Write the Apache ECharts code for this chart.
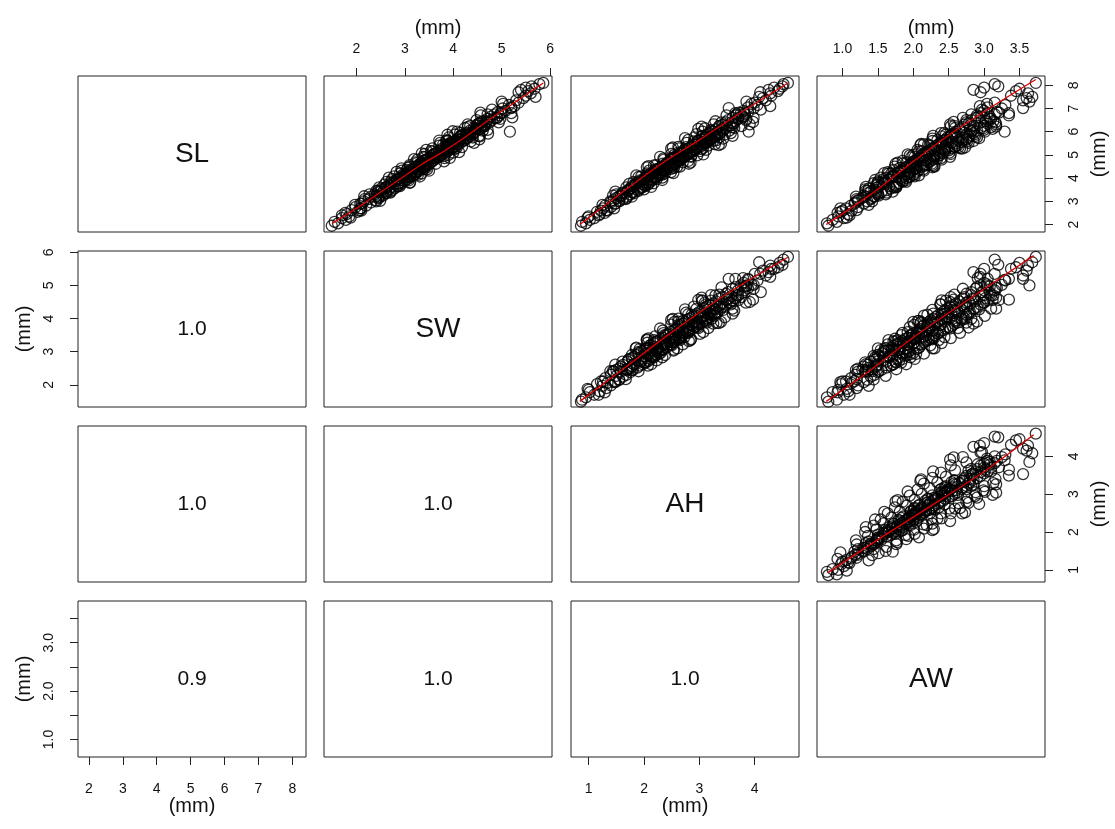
<!DOCTYPE html>
<html>
<head>
<meta charset="utf-8">
<script src="https://cdn.jsdelivr.net/npm/echarts@6/dist/echarts.min.js"></script>
<style>html,body{margin:0;padding:0;background:#fff}#main{width:1115px;height:829px}</style>
</head>
<body>
<div id="main"></div>
<script>
var varNames = ['SL', 'SW', 'AH', 'AW'];

var sl = [1.95,2.05,2.12,2.20,2.28,2.35,2.45,2.55,2.62,2.70,2.75,2.82,2.90,2.95,3.00,3.05,3.10,3.15,3.20,3.25,
  3.30,3.35,3.40,3.42,3.48,3.50,3.55,3.58,3.62,3.65,3.70,3.72,3.78,3.80,3.85,3.88,3.92,3.95,4.00,4.02,
  4.05,4.08,4.10,4.12,4.15,4.18,4.20,4.25,4.28,4.30,4.35,4.38,4.40,4.45,4.48,4.50,4.55,4.58,4.60,4.65,
  4.68,4.70,4.75,4.78,4.80,4.85,4.88,4.90,4.95,4.98,5.00,5.05,5.08,5.10,5.15,5.18,5.20,5.25,5.28,5.30,
  5.35,5.38,5.40,5.45,5.50,5.52,5.55,5.60,5.62,5.65,5.70,5.75,5.78,5.80,5.85,5.90,5.95,6.00,6.00,6.05,
  6.10,6.15,6.20,6.25,6.30,6.35,6.40,6.45,6.50,6.55,6.60,6.65,6.70,6.75,6.80,6.85,6.90,7.00,7.05,7.15,
  7.25,7.35,7.45,7.55,7.65,7.75,7.85,7.95,8.05,8.10,3.60,3.75,3.90,4.05,4.15,4.25,4.35,4.45,4.55,4.65,
  4.75,4.85,4.95,5.05,5.15,5.25,5.35,5.45,5.55,5.65,5.75,5.85,5.95,6.10,6.25,6.40,6.60,6.80,3.20,3.40,
  4.50,5.00,5.60,4.20,6.20,3.80,5.80,2.40,2.60,7.80,7.90,7.70,
  2.30,2.50,2.70,2.85,3.00,3.10,3.20,3.30,3.38,3.45,3.52,3.60,3.66,3.72,3.78,3.84,3.90,3.96,4.02,4.08,
  4.14,4.20,4.26,4.32,4.38,4.44,4.50,4.56,4.62,4.68,4.74,4.80,4.86,4.92,4.98,5.04,5.10,5.16,5.22,5.28,
  5.34,5.40,5.46,5.52,5.58,5.64,5.70,5.76,5.82,5.88,5.94,6.00,6.08,6.16,6.24,6.32,6.40,6.50,6.60,6.70,
  6.80,6.95,7.10,7.30,7.50,3.35,3.55,3.75,3.95,4.15,4.35,4.55,4.75,4.95,5.15,5.35,5.55,5.75,5.95,6.15,
  6.35,6.55,6.75,4.05,4.25,4.45,4.65,4.85,5.05,5.25,5.45,5.65,5.85,6.05,6.25,6.45,3.15,3.25,3.45,3.65,
  3.85,4.40,4.60,4.90,5.30,5.60,5.90,2.90,2.60,7.20,
  3.02,3.22,3.42,3.62,3.82,4.02,4.12,4.22,4.32,4.42,4.52,4.62,4.72,4.82,4.92,5.02,5.12,5.22,5.32,5.42,
  5.52,5.62,5.72,5.82,5.92,6.02,6.22,6.42,6.62,6.82,7.02,3.92,4.07,4.27,4.47,4.67,4.87,5.07,5.27,5.47,
  5.67,5.87,6.12,6.32];
var sw = [1.49,1.62,1.55,1.78,1.70,1.85,1.80,2.02,1.90,2.10,1.98,2.20,2.08,2.30,2.15,2.40,2.25,2.45,2.30,2.55,
  2.38,2.60,2.45,2.70,2.52,2.75,2.58,2.80,2.62,2.85,2.68,2.90,2.72,2.95,2.78,3.00,2.84,3.05,2.88,3.10,
  2.92,3.12,2.98,3.18,2.96,3.20,3.02,3.25,3.08,3.28,3.12,3.32,3.18,3.38,3.22,3.42,3.28,3.48,3.32,3.52,
  3.36,3.55,3.40,3.60,3.45,3.65,3.50,3.68,3.55,3.75,3.60,3.80,3.65,3.85,3.70,3.90,3.74,3.95,3.78,4.00,
  3.84,4.05,3.88,4.10,3.95,4.15,4.00,4.20,4.05,4.25,4.10,4.30,4.15,4.35,4.20,4.40,4.28,5.17,4.45,4.35,
  4.52,4.42,4.60,4.48,4.65,4.55,4.75,4.62,4.80,4.70,4.90,4.78,4.95,4.85,5.00,4.92,5.08,5.02,5.20,5.15,
  5.35,5.30,5.45,5.50,5.60,5.55,5.68,5.62,5.78,5.86,2.70,2.85,2.95,3.05,3.10,3.15,3.25,3.30,3.40,3.45,
  3.50,3.58,3.65,3.72,3.80,3.88,3.92,4.00,4.08,4.15,4.22,4.28,4.36,4.45,4.58,4.68,4.85,4.98,2.40,2.55,
  3.10,3.90,3.85,3.35,4.30,3.10,4.55,1.70,2.10,5.40,5.50,5.35,
  1.88,1.77,2.08,1.97,2.41,2.17,2.45,2.27,2.70,2.41,2.68,2.47,2.90,2.58,2.87,2.62,3.08,2.74,3.05,2.78,
  3.27,2.90,3.22,2.94,3.46,3.06,3.39,3.10,3.64,3.22,3.57,3.26,3.82,3.38,3.74,3.41,4.00,3.54,3.92,3.57,
  4.18,3.71,4.09,3.73,4.36,3.87,4.26,3.91,4.53,4.04,4.43,4.08,4.71,4.24,4.65,4.30,4.94,4.48,4.90,4.57,
  5.20,4.80,5.26,5.00,5.70,2.62,2.51,2.78,2.85,3.21,3.04,3.35,3.40,3.81,3.58,3.91,3.96,4.40,4.14,4.48,
  4.52,4.97,4.71,2.99,3.05,3.44,3.25,3.56,3.61,4.03,3.79,4.13,4.17,4.61,4.35,4.70,2.47,2.42,2.44,2.85,
  2.71,3.40,3.30,3.41,4.07,3.89,4.30,2.11,2.06,5.03,
  2.49,2.16,2.61,2.62,3.11,2.67,3.12,3.03,3.50,2.93,3.40,3.32,3.81,3.19,3.70,3.59,4.12,3.44,3.99,3.86,
  4.43,3.71,4.28,4.15,4.72,3.99,4.63,4.57,5.22,4.56,5.20,2.83,3.31,2.83,3.37,3.35,3.93,3.35,3.96,3.90,
  4.54,3.88,4.56,4.50];
var ah = [0.86,0.95,0.88,1.02,1.10,1.00,1.20,1.15,1.32,1.26,1.40,1.30,1.48,1.40,1.55,1.45,1.62,1.50,1.68,1.58,
  1.75,1.62,1.80,1.70,1.88,1.72,1.92,1.78,1.98,1.82,2.02,1.85,2.08,1.90,2.12,1.95,2.15,2.00,2.20,2.02,
  2.22,2.08,2.25,2.10,2.30,2.12,2.28,2.18,2.35,2.20,2.40,2.25,2.42,2.30,2.48,2.34,2.52,2.38,2.55,2.42,
  2.58,2.45,2.62,2.48,2.65,2.55,2.70,2.58,2.75,2.62,2.78,2.66,2.82,2.70,2.88,2.74,2.92,2.78,2.95,2.82,
  3.00,2.88,3.05,2.92,3.10,2.96,3.14,3.00,3.18,3.05,3.22,3.10,3.28,3.12,3.32,3.18,3.38,3.89,3.25,3.42,
  3.30,3.48,3.35,3.55,3.42,3.60,3.48,3.65,3.52,3.70,3.60,3.78,3.66,3.82,3.75,3.88,3.80,3.98,3.88,4.05,
  4.00,4.20,4.15,4.30,4.28,4.42,4.45,4.50,4.52,4.60,1.95,1.98,2.05,2.15,2.25,2.30,2.35,2.40,2.45,2.50,
  2.58,2.65,2.70,2.78,2.82,2.90,2.95,3.02,3.08,3.15,3.20,3.28,3.32,3.40,3.50,3.58,3.70,3.82,1.58,1.78,
  2.60,2.55,3.25,2.05,3.60,1.85,3.05,1.18,1.22,4.25,4.35,4.10,
  0.98,1.29,1.46,1.25,1.39,1.67,1.78,1.50,1.61,1.90,2.00,1.68,1.78,2.07,2.17,1.81,1.92,2.23,2.33,1.95,
  2.06,2.38,2.49,2.09,2.20,2.54,2.65,2.22,2.34,2.70,2.80,2.36,2.49,2.85,2.96,2.49,2.62,3.01,3.12,2.63,
  2.76,3.16,3.28,2.77,2.90,3.31,3.43,2.91,3.05,3.46,3.57,3.06,3.21,3.63,3.76,3.26,3.40,3.84,3.98,3.49,
  3.65,4.11,4.28,3.85,4.08,1.82,1.75,1.73,2.13,2.33,2.22,2.18,2.64,2.85,2.70,2.62,3.14,3.36,3.18,3.10,
  3.62,3.85,3.67,1.90,2.32,2.53,2.41,2.35,2.82,3.04,2.88,2.80,3.32,3.54,3.36,3.29,1.69,1.44,1.70,2.02,
  1.93,2.49,2.54,2.55,3.07,2.97,2.95,1.48,1.34,3.94,
  1.55,1.55,1.48,2.13,2.05,2.03,1.86,2.53,2.37,2.27,2.08,2.81,2.62,2.50,2.29,3.07,2.86,2.73,2.52,3.35,
  3.12,2.98,2.74,3.60,3.36,3.22,3.04,3.97,3.79,3.71,3.53,2.33,2.21,2.18,2.05,2.84,2.71,2.65,2.49,3.39,
  3.21,3.13,2.98,3.91];
var aw = [0.80,0.78,0.92,0.86,1.02,0.94,1.08,0.98,1.20,1.05,1.22,1.12,1.30,1.18,1.35,1.22,1.40,1.28,1.45,1.30,
  1.50,1.36,1.55,1.40,1.62,1.45,1.68,1.48,1.72,1.52,1.75,1.50,1.80,1.56,1.85,1.60,1.82,1.65,1.90,1.62,
  1.95,1.70,1.88,1.72,2.00,1.76,1.95,1.78,2.05,1.82,2.08,1.85,2.02,1.88,2.12,1.92,2.15,1.95,2.18,1.98,
  2.22,2.00,2.25,2.05,2.28,2.08,2.30,2.10,2.35,2.12,2.38,2.15,2.42,2.20,2.45,2.22,2.50,2.25,2.55,2.28,
  2.58,2.32,2.62,2.35,2.60,2.40,2.68,2.42,2.70,2.45,2.75,2.48,2.78,2.52,2.80,2.55,2.85,3.29,2.60,2.90,
  2.65,2.95,2.70,3.00,2.72,3.05,2.75,3.02,2.82,3.10,2.88,3.08,2.90,3.15,2.95,3.18,3.00,3.25,3.05,3.30,
  3.15,3.55,3.60,3.38,3.62,3.45,3.50,3.20,3.15,3.73,1.75,1.58,1.85,1.70,1.92,1.80,2.00,1.95,2.10,2.02,
  2.18,2.12,2.28,2.20,2.38,2.30,2.45,2.40,2.55,2.50,2.62,2.58,2.72,2.80,2.85,2.95,3.00,3.05,1.32,1.48,
  2.30,2.00,2.85,1.65,3.10,1.50,2.40,1.10,1.00,2.85,3.00,2.95,
  1.06,0.93,0.97,1.37,1.42,1.20,1.19,1.61,1.62,1.36,1.32,1.76,1.76,1.48,1.44,1.90,1.89,1.58,1.54,2.02,
  2.01,1.69,1.64,2.15,2.14,1.81,1.74,2.27,2.26,1.91,1.85,2.40,2.39,2.02,1.95,2.53,2.51,2.12,2.06,2.66,
  2.64,2.23,2.15,2.78,2.76,2.34,2.27,2.90,2.88,2.46,2.39,3.01,3.00,2.59,2.53,3.17,3.16,2.75,2.70,3.35,
  3.35,2.97,2.94,3.64,3.68,1.50,1.37,1.77,1.66,1.91,1.72,2.19,2.02,2.30,2.08,2.59,2.40,2.69,2.44,2.99,
  2.78,3.08,2.82,1.93,1.79,2.05,1.86,2.34,2.17,2.45,2.21,2.75,2.54,2.84,2.58,3.13,1.41,1.51,1.33,1.66,
  1.50,2.03,1.96,1.97,2.48,2.27,2.87,1.17,1.13,3.04,
  1.22,1.44,1.71,1.33,1.60,1.83,2.08,1.59,1.83,2.04,2.29,1.75,2.01,2.24,2.52,1.92,2.20,2.44,2.73,2.10,
  2.38,2.63,2.93,2.28,2.58,2.82,3.17,2.57,2.91,3.21,3.55,1.46,1.72,1.96,2.27,1.78,2.08,2.36,2.69,2.11,
  2.46,2.75,3.12,2.52];

// red smoother lines as [x, y]
var lineSlSw = [[1.5,2.05],[2.0,2.7],[2.5,3.4],[3.0,4.1],[3.35,4.6],[3.8,5.15],[4.3,5.85],[4.8,6.6],[5.3,7.3],[5.86,8.1]];
var lineSlAh = [[0.84,2.0],[1.5,3.2],[2.3,4.6],[3.0,5.65],[3.8,6.9],[4.6,8.1]];
var lineSlAw = [[0.77,2.0],[1.4,3.3],[1.95,4.6],[2.5,5.85],[3.07,7.0],[3.73,8.25]];
var lineSwAh = [[0.84,1.5],[1.6,2.45],[2.43,3.5],[3.5,4.75],[4.6,5.85]];
var lineSwAw = [[0.77,1.5],[1.4,2.45],[2.02,3.46],[2.9,4.75],[3.7,5.9]];
var lineAhAw = [[0.79,0.92],[1.5,1.8],[2.2,2.63],[3.0,3.6],[3.7,4.57]];

// correlations shown in lower panels [row, col, text]
var corrCells = [[1,0,'1.0'],[2,0,'1.0'],[2,1,'1.0'],[3,0,'0.9'],[3,1,'1.0'],[3,2,'1.0']];

// axis ticks
var ticksSL = [2,3,4,5,6,7,8];
var ticksSW = [2,3,4,5,6];
var ticksAH = [1,2,3,4];
var ticksAW = [1.0,1.5,2.0,2.5,3.0,3.5];
var labelsAWleft = [1.0,2.0,3.0];

var ranges = [[1.68,8.4],[1.33,6.04],[0.68,4.8],[0.64,3.86]];
var vals = [sl, sw, ah, aw];
var fits = {'0-1': lineSlSw, '0-2': lineSlAh, '0-3': lineSlAw, '1-2': lineSwAh, '1-3': lineSwAw, '2-3': lineAhAw};

var colLeft = [78, 324, 571, 817];
var rowTop = [76, 251, 426, 601];
var W = 228, H = 156;
var FONT = '"Liberation Sans", Arial, sans-serif';

var myChart = echarts.init(document.getElementById('main'));

function xAx(idx, c, pos, ticks, labels, fmt) {
    var a = {gridIndex: idx, type: 'value', min: ranges[c][0], max: ranges[c][1], show: false,
        splitLine: {show: false}};
    if (pos) {
        a.show = true;
        a.position = pos;
        a.axisLine = {show: false};
        a.axisTick = {show: true, length: 8, lineStyle: {color: '#222', width: 1}, customValues: ticks};
        a.axisLabel = {show: true, customValues: labels, color: '#111', fontSize: 14, fontFamily: FONT,
            margin: pos == 'top' ? 20 : 25, formatter: fmt};
        a.name = '(mm)';
        a.nameLocation = 'middle';
        a.nameGap = pos == 'top' ? 38 : 39;
        a.nameTextStyle = {fontSize: 20, color: '#111', fontFamily: FONT};
    }
    return a;
}
function yAx(idx, r, pos, ticks, labels, fmt) {
    var a = {gridIndex: idx, type: 'value', min: ranges[r][0], max: ranges[r][1], show: false,
        splitLine: {show: false}};
    if (pos) {
        a.show = true;
        a.position = pos;
        a.axisLine = {show: false};
        a.axisTick = {show: true, length: 8, lineStyle: {color: '#222', width: 1}, customValues: ticks};
        a.axisLabel = {show: true, customValues: labels, color: '#111', fontSize: 14, fontFamily: FONT,
            rotate: 90, margin: 22, formatter: fmt};
        a.name = '(mm)';
        a.nameLocation = 'middle';
        a.nameRotate = 90;
        a.nameGap = 44;
        a.nameTextStyle = {fontSize: 20, color: '#111', fontFamily: FONT};
    }
    return a;
}
var f0 = function (v) { return String(Math.round(v)); };
var f1 = function (v) { return v.toFixed(1); };

var grids = [], xAxes = [], yAxes = [], series = [], texts = [];
for (var r = 0; r < 4; r++) {
    for (var c = 0; c < 4; c++) {
        var idx = r * 4 + c;
        grids.push({left: colLeft[c], top: rowTop[r], width: W, height: H, show: true,
            borderColor: '#222', borderWidth: 1, backgroundColor: 'transparent'});
        var xa, ya;
        if (idx == 1) xa = xAx(idx, c, 'top', ticksSW, ticksSW, f0);
        else if (idx == 3) xa = xAx(idx, c, 'top', ticksAW, ticksAW, f1);
        else if (idx == 12) xa = xAx(idx, c, 'bottom', ticksSL, ticksSL, f0);
        else if (idx == 14) xa = xAx(idx, c, 'bottom', ticksAH, ticksAH, f0);
        else xa = xAx(idx, c);
        if (idx == 4) ya = yAx(idx, r, 'left', ticksSW, ticksSW, f0);
        else if (idx == 12) ya = yAx(idx, r, 'left', ticksAW, labelsAWleft, f1);
        else if (idx == 3) ya = yAx(idx, r, 'right', ticksSL, ticksSL, f0);
        else if (idx == 11) ya = yAx(idx, r, 'right', ticksAH, ticksAH, f0);
        else ya = yAx(idx, r);
        xAxes.push(xa);
        yAxes.push(ya);

        if (r == c) {
            texts.push({type: 'text', x: colLeft[c] + W / 2, y: rowTop[r] + H / 2,
                style: {text: varNames[r], fontSize: 28, fontFamily: FONT, fill: '#111',
                    align: 'center', verticalAlign: 'middle'}});
        }
        if (r < c) {
            var pts = [];
            for (var i = 0; i < sl.length; i++) pts.push([vals[c][i], vals[r][i]]);
            series.push({type: 'scatter', xAxisIndex: idx, yAxisIndex: idx, data: pts,
                symbol: 'circle', symbolSize: 11, silent: true,
                itemStyle: {color: 'rgba(0,0,0,0)', borderColor: '#000', borderWidth: 1.3}});
            series.push({type: 'line', xAxisIndex: idx, yAxisIndex: idx, data: fits[r + '-' + c],
                showSymbol: false, smooth: 0.3, silent: true, z: 5,
                lineStyle: {color: '#e00000', width: 1.3}});
        }
    }
}
corrCells.forEach(function (cc) {
    texts.push({type: 'text', x: colLeft[cc[1]] + W / 2, y: rowTop[cc[0]] + H / 2,
        style: {text: cc[2], fontSize: 21, fontFamily: FONT, fill: '#111',
            align: 'center', verticalAlign: 'middle'}});
});

option = {
    backgroundColor: '#fff',
    animation: false,
    grid: grids,
    xAxis: xAxes,
    yAxis: yAxes,
    series: series,
    graphic: texts
};
myChart.setOption(option);
</script>
</body>
</html>
